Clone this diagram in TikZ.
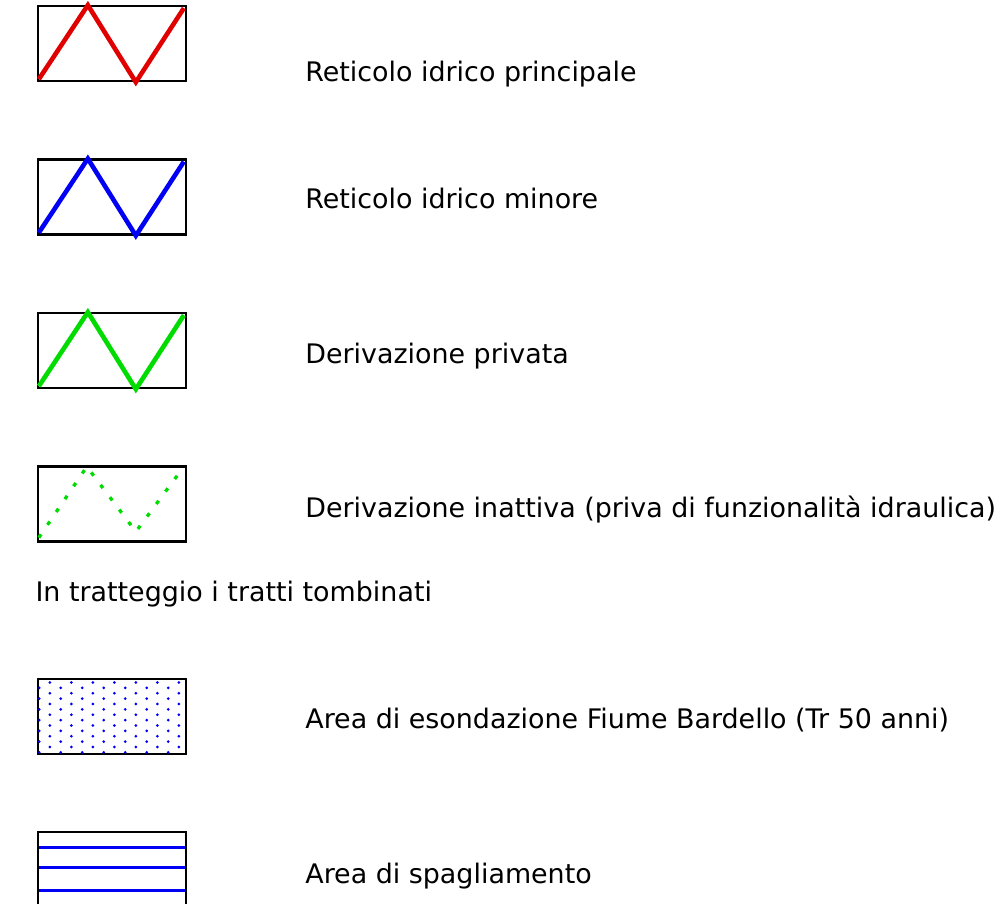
\documentclass[tikz,border=0pt]{standalone}
\usepackage{fontspec}
\setmainfont{DejaVu Sans}
\definecolor{netred}{RGB}{225,0,0}
\definecolor{netblue}{RGB}{0,0,245}
\definecolor{netgreen}{RGB}{0,220,0}

\begin{document}
\begin{tikzpicture}[
		x=1pt, y=1pt,
		node distance=153.5pt,
		symbox/.style={draw, line width=2.3pt, minimum width=148pt, minimum height=75pt, inner sep=0pt},
		legtext/.style={anchor=base west, inner sep=0pt, font=\fontsize{26.9}{31}\selectfont},
		zigline/.style={line width=4.6pt, line join=miter}
		]
		\useasboundingbox (0,0) rectangle (1004,-903);
		\clip (0,0) rectangle (1004,-903);
		
		% Symbol boxes
		\node[symbox] (rmain) at (112,-43.5) {};
		\node[symbox, below of=rmain] (rminor) {};
		\node[symbox, below of=rminor] (dpriv) {};
		\node[symbox, below of=dpriv] (dinact) {};
		\node[symbox, below of=dinact, node distance=212.5pt] (flood) {};
		\node[symbox, below of=flood, node distance=153pt] (spread) {};
		
		% Zigzags
		\draw[zigline, netred] ([shift={(2,3)}]rmain.south west) -- ([shift={(51,77)}]rmain.south west) -- ([shift={(99,0)}]rmain.south west) -- ([shift={(147,74)}]rmain.south west);
		\draw[zigline, netblue] ([shift={(2,3)}]rminor.south west) -- ([shift={(51,77)}]rminor.south west) -- ([shift={(99,0)}]rminor.south west) -- ([shift={(147,74)}]rminor.south west);
		\draw[zigline, netgreen] ([shift={(2,3)}]dpriv.south west) -- ([shift={(51,77)}]dpriv.south west) -- ([shift={(99,0)}]dpriv.south west) -- ([shift={(147,74)}]dpriv.south west);
		\draw[netgreen, line width=3.3pt, dash pattern=on 4pt off 11.5pt] ([shift={(2,5)}]dinact.south west) -- ([shift={(50,76)}]dinact.south west) -- ([shift={(99,11)}]dinact.south west) -- ([shift={(147,76)}]dinact.south west);
		
		% Flood area dots
		\foreach \c in {0,...,13}
			\foreach \r in {0,...,6}
				\fill[netblue] ([shift={({2.3+10.75*\c},{2.8+10.75*\r+5.4*mod(\c,2)})}]flood.south west) circle (1.5);
		
		% Spreading area lines
		\foreach \d in {17,37,60}
			\draw[netblue, line width=3.2pt] ([shift={(2,-\d)}]spread.north west) -- ([shift={(-2,-\d)}]spread.north east);
		
		% Labels
		\node[legtext] (lmain) at ([shift={(118,-37.5)}]rmain.east) {Reticolo idrico principale};
		\node[legtext] (lminor) at ([shift={(118,-11.5)}]rminor.east) {Reticolo idrico minore};
		\node[legtext] (lpriv) at ([shift={(118,-12.5)}]dpriv.east) {Derivazione privata};
		\node[legtext] (linact) at ([shift={(118,-13)}]dinact.east) {Derivazione inattiva (priva di funzionalità idraulica)};
		\node[legtext] (lnote) at ([shift={(-1.5,-59)}]dinact.south west) {In tratteggio i tratti tombinati};
		\node[legtext] (lflood) at ([shift={(118,-11.5)}]flood.east) {Area di esondazione Fiume Bardello (Tr 50 anni)};
		\node[legtext] (lspread) at ([shift={(118,-13.5)}]spread.east) {Area di spagliamento};
	\end{tikzpicture}
\end{document}
